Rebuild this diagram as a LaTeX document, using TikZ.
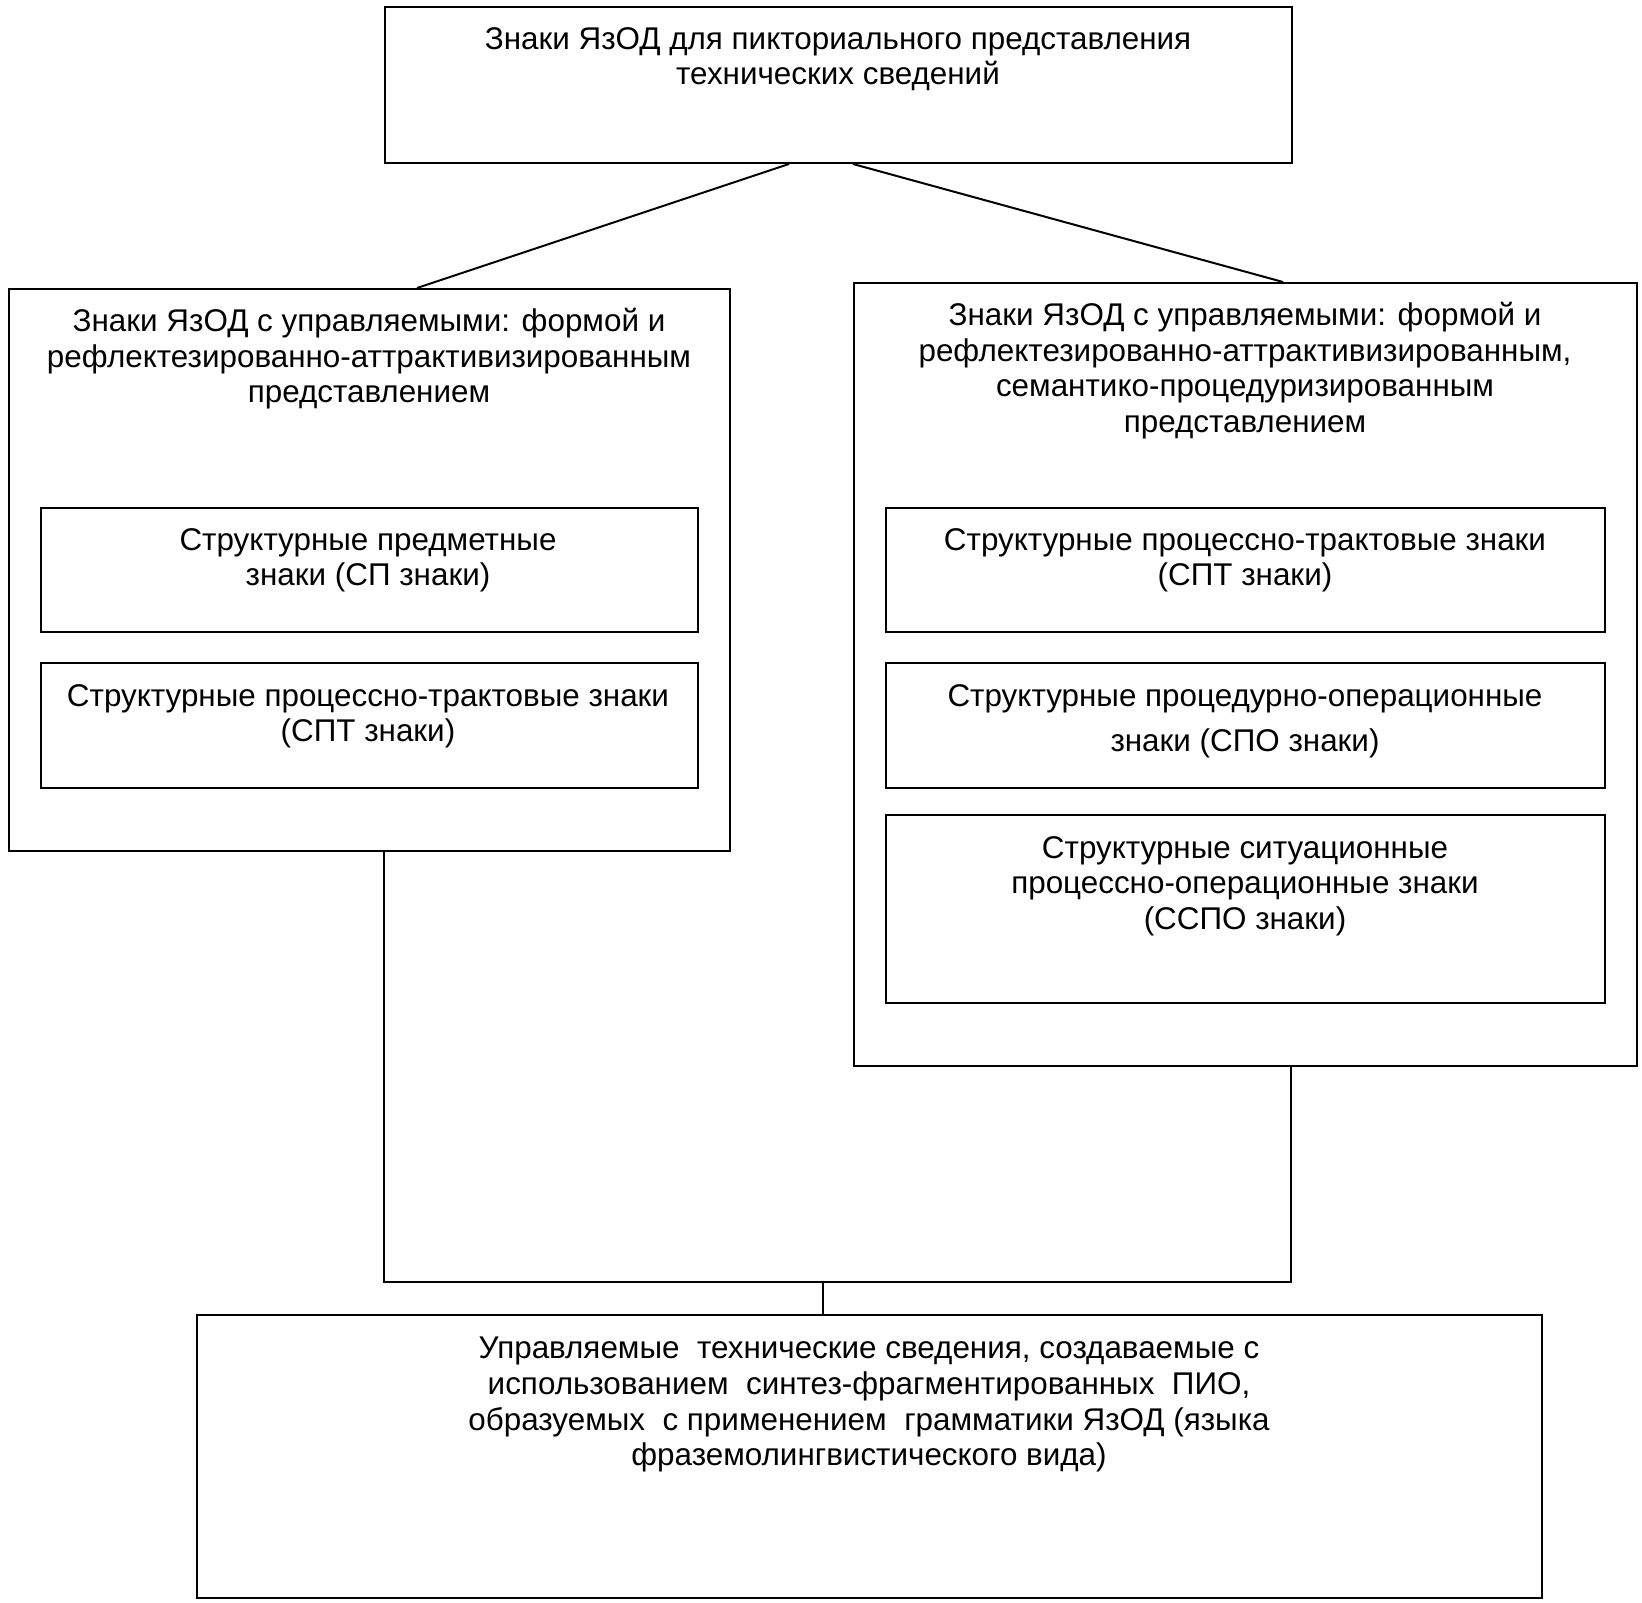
\documentclass[tikz,border=0pt]{standalone}
\usepackage{fontspec}
\setmainfont{Liberation Sans}
\usetikzlibrary{calc}
\tikzset{
  box/.style={draw, line width=2pt, inner sep=0pt, anchor=north west},
  txt/.style={align=center, inner sep=0pt, anchor=north, font=\fontsize{31.4}{35.6}\selectfont},
  conn/.style={line width=2pt}
}
\begin{document}
\begin{tikzpicture}[x=1pt,y=-1pt]
\useasboundingbox[fill=white] (0,0) rectangle (1642,1603);
% boxes
\node[box, minimum width=907pt, minimum height=156pt] (top) at (384,6) {};
\node[box, minimum width=721pt, minimum height=562pt] (left) at (8,288) {};
\node[box, minimum width=783pt, minimum height=783pt] (right) at (853,282) {};
\node[box, minimum width=657pt, minimum height=124pt] (l1) at (40,507) {};
\node[box, minimum width=657pt, minimum height=125pt] (l2) at (40,662) {};
\node[box, minimum width=719pt, minimum height=124pt] (r1) at (885,507) {};
\node[box, minimum width=719pt, minimum height=125pt] (r2) at (885,662) {};
\node[box, minimum width=719pt, minimum height=188pt] (r3) at (885,814) {};
\node[box, minimum width=1345pt, minimum height=283pt] (bot) at (196,1314) {};
% texts
\node[txt] (toptxt) at (838,27) {Знаки ЯзОД для пикториального представления\\технических сведений};
\node[txt] (lefttxt) at (369,308) {Знаки ЯзОД с управляемыми: формой и\\рефлектезированно-аттрактивизированным\\представлением};
\node[txt] (righttxt) at (1245,302) {Знаки ЯзОД с управляемыми: формой и\\рефлектезированно-аттрактивизированным,\\семантико-процедуризированным\\представлением};
\node[txt] (l1txt) at (368,528) {Структурные предметные\\знаки (СП знаки)};
\node[txt] (l2txt) at (368,684) {Структурные процессно-трактовые знаки\\(СПТ знаки)};
\node[txt] (r1txt) at (1245,528) {Структурные процессно-трактовые знаки\\(СПТ знаки)};
\node[txt] (r2txt) at (1245,684) {Структурные процедурно-операционные\\[9.4pt]знаки (СПО знаки)};
\node[txt] (r3txt) at (1245,836) {Структурные ситуационные\\процессно-операционные знаки\\(ССПО знаки)};
\node[txt] (bottxt) at (869,1337) {Управляемые\ \ технические сведения, создаваемые с\\использованием\ \ синтез-фрагментированных\ \ ПИО,\\образуемых\ \ с применением\ \ грамматики ЯзОД (языка\\фраземолингвистического вида)};
% connectors
\draw[conn] ($(top.south west)+(405,0)$) -- ($(left.north west)+(409,0)$);
\draw[conn] ($(top.south west)+(469,0)$) -- ($(right.north west)+(430,0)$);
\coordinate (jl) at (384,1282);
\coordinate (jr) at (1291,1282);
\coordinate (jm) at (823,1282);
\draw[conn] ($(left.south west)+(376,0)$) -- (jl) -- (jr) -- ($(right.south west)+(438,0)$);
\draw[conn] (jm) -- (bot.north -| jm);
\end{tikzpicture}
\end{document}
